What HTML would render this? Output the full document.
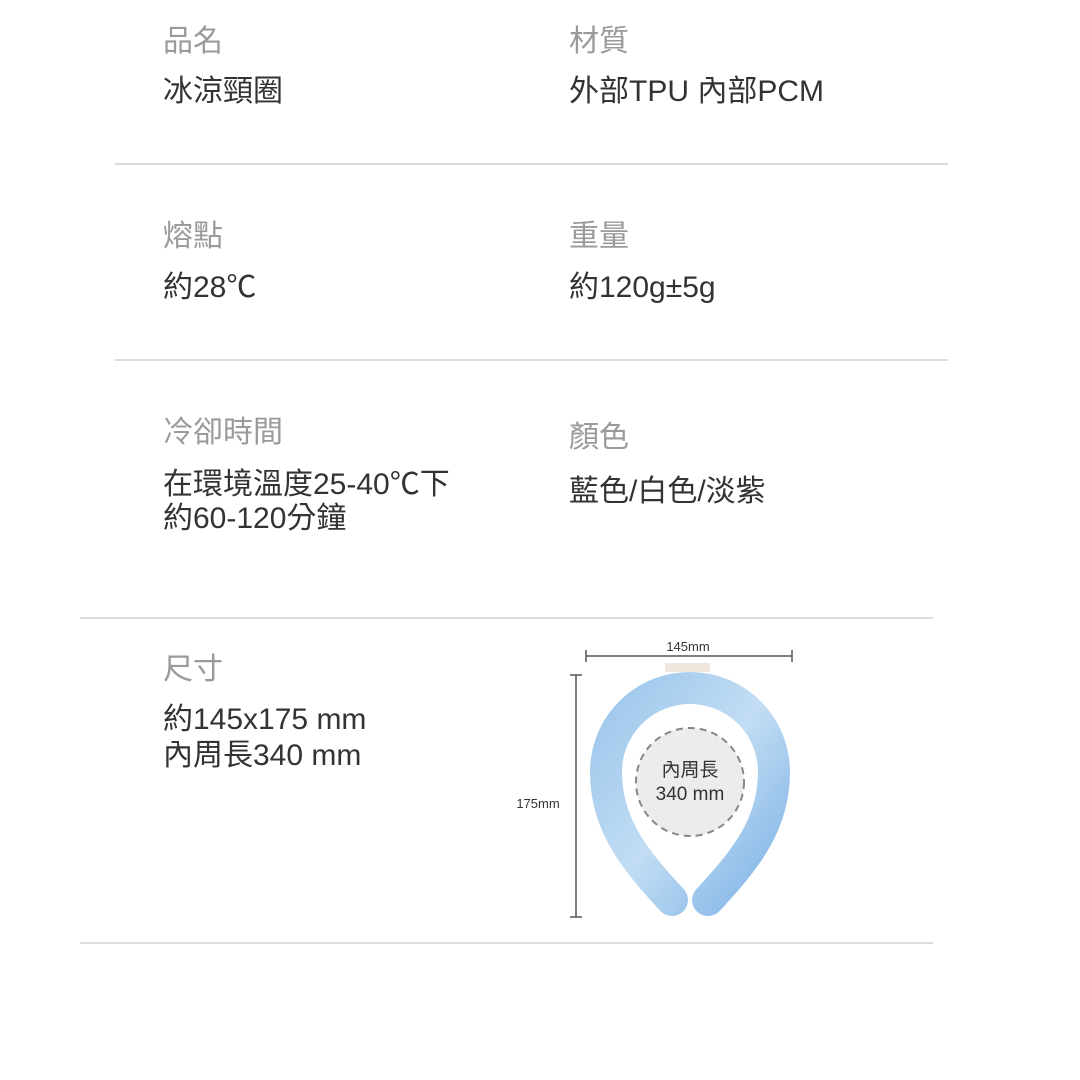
<!DOCTYPE html>
<html><head><meta charset="utf-8"><style>
body{margin:0;width:1080px;height:1080px;background:#fff;position:relative;overflow:hidden;font-family:"Liberation Sans","Noto Sans CJK TC",sans-serif;}
.t{position:absolute;font-size:30px;line-height:34px;white-space:nowrap;}
.l{color:#9a9a9a;}
.v{color:#333;}
.hr{position:absolute;height:2px;background:#dcdcdc;}
</style></head><body>
<div class="t l" style="left:163px;top:25px">品名</div>
<div class="t v" style="left:163px;top:75px">冰涼頸圈</div>
<div class="t l" style="left:569px;top:25px">材質</div>
<div class="t v" style="left:569px;top:75px">外部TPU 內部PCM</div>
<div class="hr" style="left:115px;width:833px;top:163px"></div>

<div class="t l" style="left:163px;top:220px">熔點</div>
<div class="t v" style="left:163px;top:271px">約28℃</div>
<div class="t l" style="left:569px;top:220px">重量</div>
<div class="t v" style="left:569px;top:271px">約120g±5g</div>
<div class="hr" style="left:115px;width:833px;top:359px"></div>

<div class="t l" style="left:163px;top:416px">冷卻時間</div>
<div class="t v" style="left:163px;top:468px">在環境溫度25-40℃下</div>
<div class="t v" style="left:163px;top:502px">約60-120分鐘</div>
<div class="t l" style="left:569px;top:421px">顏色</div>
<div class="t v" style="left:569px;top:475px">藍色/白色/淡紫</div>
<div class="hr" style="left:80px;width:853px;top:617px"></div>

<div class="t l" style="left:163px;top:653px">尺寸</div>
<div class="t v" style="left:163px;top:703px">約145x175 mm</div>
<div class="t v" style="left:163px;top:739px">內周長340 mm</div>
<div class="hr" style="left:80px;width:853px;top:942px"></div>

<svg width="1080" height="1080" style="position:absolute;left:0;top:0">
<defs><linearGradient id="g" x1="0" y1="0" x2="1" y2="1">
<stop offset="0" stop-color="#9cc6ec"/><stop offset="0.5" stop-color="#c2ddf3"/><stop offset="1" stop-color="#7fb3e6"/></linearGradient></defs>
<g stroke="#555" stroke-width="1.5">
<line x1="586" y1="656" x2="792" y2="656"/><line x1="586" y1="650" x2="586" y2="662"/><line x1="792" y1="650" x2="792" y2="662"/>
<line x1="576" y1="675" x2="576" y2="917"/><line x1="570" y1="675" x2="582" y2="675"/><line x1="570" y1="917" x2="582" y2="917"/>
</g>
<text x="688" y="651" font-size="13" fill="#333" text-anchor="middle" font-family="Liberation Sans">145mm</text>
<text x="538" y="808" font-size="13" fill="#333" text-anchor="middle" font-family="Liberation Sans">175mm</text>
<rect x="665" y="663" width="45" height="9" fill="#efe6de"/>
<path d="M672 900 C635 860 606 825 606 772 A84 84 0 1 1 774 772 C774 825 745 860 708 900" fill="none" stroke="url(#g)" stroke-width="32" stroke-linecap="round"/>
<circle cx="690" cy="782" r="54" fill="#ececec" stroke="#888" stroke-width="2" stroke-dasharray="7 5"/>
<text x="690" y="776" font-size="19" fill="#333" text-anchor="middle" font-family="Liberation Sans,Noto Sans CJK TC,sans-serif">內周長</text>
<text x="690" y="800" font-size="19" fill="#333" text-anchor="middle" font-family="Liberation Sans,sans-serif">340 mm</text>
</svg>
</body></html>
